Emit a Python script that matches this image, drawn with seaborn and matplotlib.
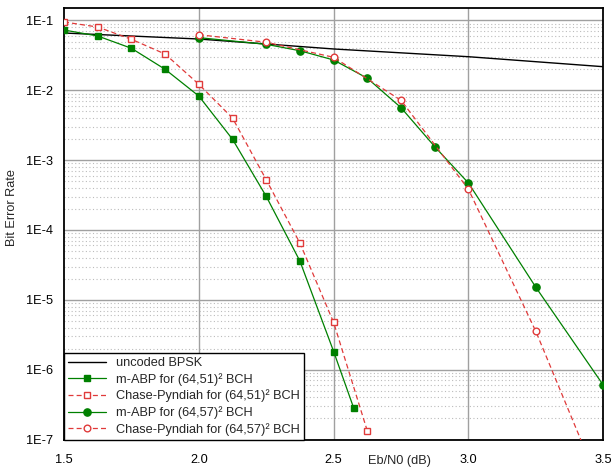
import numpy as np
import pandas as pd
import matplotlib
matplotlib.use("Agg")
import matplotlib.pyplot as plt
from matplotlib.ticker import FixedLocator, FixedFormatter, NullFormatter, LogLocator
import seaborn as sns

# ---------------- data ----------------
bpsk_x = [1.5, 2.0, 2.5, 3.0, 3.5]
bpsk_y = [0.0662, 0.0543, 0.0391, 0.0303, 0.0218]

abp51_x = [1.5, 1.625, 1.75, 1.875, 2.0, 2.125, 2.25, 2.375, 2.5, 2.575]
abp51_y = [0.0731, 0.0600, 0.0400, 0.0200, 0.00828, 0.00199, 3.03e-4, 3.58e-5, 1.82e-6, 2.78e-7]

cp51_x = [1.5, 1.625, 1.75, 1.875, 2.0, 2.125, 2.25, 2.375, 2.5, 2.625]
cp51_y = [0.0952, 0.0807, 0.0538, 0.0331, 0.0122, 0.00401, 5.24e-4, 6.48e-5, 4.74e-6, 1.32e-7]

abp57_x = [2.0, 2.25, 2.375, 2.5, 2.625, 2.75, 2.875, 3.0, 3.25, 3.5]
abp57_y = [0.0568, 0.0456, 0.0369, 0.0272, 0.0149, 0.00564, 0.00156, 4.70e-4, 1.51e-5, 6.0e-7]

cp57_x = [2.0, 2.25, 2.5, 2.75, 3.0, 3.25, 3.5]
cp57_y = [0.0626, 0.0488, 0.0297, 0.00719, 3.82e-4, 3.52e-6, 1.66e-8]

labels = ["uncoded BPSK",
          "m-ABP for (64,51)\u00b2 BCH",
          "Chase-Pyndiah for (64,51)\u00b2 BCH",
          "m-ABP for (64,57)\u00b2 BCH",
          "Chase-Pyndiah for (64,57)\u00b2 BCH"]

x_ticks = [1.5, 2.0, 2.5, 3.0, 3.5]
x_tick_labels = ["1.5", "2.0", "2.5", "3.0", "3.5"]
y_ticks = [1e-7, 1e-6, 1e-5, 1e-4, 1e-3, 1e-2, 1e-1]
y_tick_labels = ["1E-7", "1E-6", "1E-5", "1E-4", "1E-3", "1E-2", "1E-1"]
x_label = "Eb/N0 (dB)"
y_label = "Bit Error Rate"

# ---------------- style ----------------
sns.set_style("white")
plt.rcParams["font.family"] = ["Liberation Sans", "DejaVu Sans"]
plt.rcParams["font.size"] = 9

GREEN = "#008000"
RED = "#e03a3a"
FS = 9.2

fig = plt.figure(figsize=(6.13, 4.68), dpi=100)
W, H = 613, 468
left, right, top, bottom = 64, 603.3, 8, 439.5
ax = fig.add_axes([left / W, (H - bottom) / H, (right - left) / W, (bottom - top) / H])

ax.set_yscale("log")

# grid
for v in [2.0, 2.5, 3.0]:
    ax.axvline(v, color="#a0a0a0", lw=1.0, zorder=0.5)
for dec in range(-7, 0):
    ax.axhline(10.0 ** dec, color="#a0a0a0", lw=1.0, zorder=0.5)
    for m in range(2, 10):
        ax.axhline(m * 10.0 ** dec, color="#bcbcbc", lw=0.8, ls=(0, (1.0, 2.2)), zorder=0.4)

def draw(x, y, label, color, marker, ms, mfc, ls):
    df = pd.DataFrame({"x": x, "y": y})
    kw = dict(color=color, lw=0.9, label=label, ax=ax, sort=False, zorder=3)
    if marker is not None:
        kw.update(marker=marker, markersize=ms, markerfacecolor=mfc,
                  markeredgecolor=color, markeredgewidth=1.0)
    sns.lineplot(data=df, x="x", y="y", **kw)
    line = ax.lines[-1]
    if ls == "--":
        line.set_dashes((4, 2.5))
    line.set_clip_on(True)
    return line

l0 = draw(bpsk_x, bpsk_y, labels[0], "black", None, 0, None, "-")
l0.set_linewidth(1.0)
draw(abp51_x, abp51_y, labels[1], GREEN, "s", 4.5, GREEN, "-")
draw(cp51_x, cp51_y, labels[2], RED, "s", 4.5, "white", "--")
draw(abp57_x, abp57_y, labels[3], GREEN, "o", 5.2, GREEN, "-")
draw(cp57_x, cp57_y, labels[4], RED, "o", 4.8, "white", "--")

ax.set_xlim(1.5, 3.5)
ax.set_ylim(1e-7, 0.151)

ax.xaxis.set_major_locator(FixedLocator(x_ticks))
ax.xaxis.set_major_formatter(FixedFormatter(x_tick_labels))
ax.xaxis.set_minor_locator(FixedLocator([1.75, 2.25, 2.75, 3.25]))
ax.yaxis.set_major_locator(FixedLocator(y_ticks))
ax.yaxis.set_major_formatter(FixedFormatter(y_tick_labels))
ax.yaxis.set_minor_locator(LogLocator(base=10, subs=np.arange(2, 10), numticks=20))
ax.yaxis.set_minor_formatter(NullFormatter())

ax.tick_params(axis="both", which="major", direction="out", length=4, width=1.0,
               color="black", labelsize=FS, labelcolor="black")
ax.tick_params(axis="both", which="minor", direction="out", length=2.2, width=0.8, color="black")
ax.tick_params(axis="x", which="major", pad=6.5)
ax.tick_params(axis="y", which="major", pad=4.0)

for s in ax.spines.values():
    s.set_color("black")
    s.set_linewidth(1.3)
    s.set_visible(True)

ax.set_xlabel(x_label, fontsize=FS)
ax.xaxis.set_label_coords(0.622, -0.035)
ax.set_ylabel(y_label, fontsize=FS)
ax.yaxis.set_label_coords(-0.085, 0.537)

leg = ax.legend(loc="lower left", bbox_to_anchor=(0, 0), borderaxespad=0.0,
                fontsize=9.2, frameon=True, fancybox=False, handlelength=3.0,
                labelspacing=0.3, borderpad=0.3, handletextpad=0.8)
leg.get_frame().set_edgecolor("black")
leg.get_frame().set_linewidth(1.0)
leg.get_frame().set_facecolor("white")
leg.get_frame().set_alpha(1.0)
leg.set_zorder(10)

fig.savefig("out.png", dpi=100)
